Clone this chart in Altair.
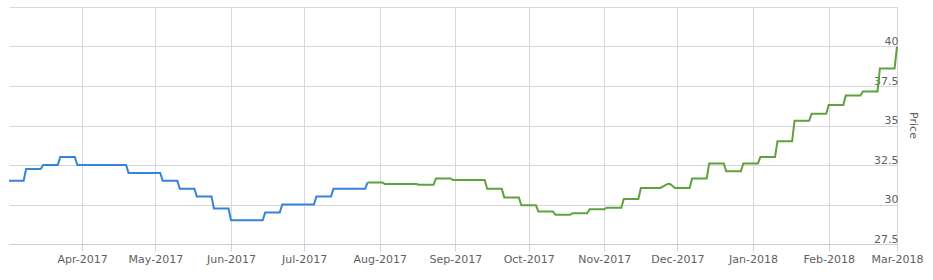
import altair as alt
import pandas as pd

# Vertex dates and prices (weekly price steps)
blue_dates = [
    "2017-03-02", "2017-03-08", "2017-03-09", "2017-03-15", "2017-03-16",
    "2017-03-22", "2017-03-23", "2017-03-29", "2017-03-30", "2017-04-19",
    "2017-04-20", "2017-05-03", "2017-05-04", "2017-05-10", "2017-05-11",
    "2017-05-17", "2017-05-18", "2017-05-24", "2017-05-25", "2017-05-31",
    "2017-06-01", "2017-06-14", "2017-06-15", "2017-06-21", "2017-06-22",
    "2017-07-05", "2017-07-06", "2017-07-12", "2017-07-13", "2017-07-26",
    "2017-07-27",
]
blue_values = [
    31.5, 31.5, 32.25, 32.25, 32.5,
    32.5, 33.0, 33.0, 32.5, 32.5,
    32.0, 32.0, 31.5, 31.5, 31.0,
    31.0, 30.5, 30.5, 29.75, 29.75,
    29.0, 29.0, 29.5, 29.5, 30.0,
    30.0, 30.5, 30.5, 31.0, 31.0,
    31.4,
]

green_dates = [
    "2017-07-27", "2017-08-02", "2017-08-03", "2017-08-16", "2017-08-17",
    "2017-08-23", "2017-08-24", "2017-08-30", "2017-08-31", "2017-09-13",
    "2017-09-14", "2017-09-20", "2017-09-21", "2017-09-27", "2017-09-28",
    "2017-10-04", "2017-10-05", "2017-10-11", "2017-10-12", "2017-10-18",
    "2017-10-19", "2017-10-25", "2017-10-26", "2017-11-01", "2017-11-02",
    "2017-11-08", "2017-11-09", "2017-11-15", "2017-11-16", "2017-11-24",
    "2017-11-27", "2017-11-28", "2017-11-30", "2017-12-06", "2017-12-07",
    "2017-12-13", "2017-12-14", "2017-12-20", "2017-12-21", "2017-12-27",
    "2017-12-28", "2018-01-03", "2018-01-04", "2018-01-10", "2018-01-11",
    "2018-01-17", "2018-01-18", "2018-01-24", "2018-01-25", "2018-01-31",
    "2018-02-01", "2018-02-07", "2018-02-08", "2018-02-14", "2018-02-15",
    "2018-02-21", "2018-02-22", "2018-02-28", "2018-03-01",
]
green_values = [
    31.4, 31.4, 31.3, 31.3, 31.25,
    31.25, 31.65, 31.65, 31.55, 31.55,
    31.0, 31.0, 30.45, 30.45, 29.95,
    29.95, 29.55, 29.55, 29.35, 29.35,
    29.45, 29.45, 29.7, 29.7, 29.8,
    29.8, 30.35, 30.35, 31.05, 31.05,
    31.3, 31.3, 31.05, 31.05, 31.65,
    31.65, 32.6, 32.6, 32.1, 32.1,
    32.6, 32.6, 33.0, 33.0, 34.0,
    34.0, 35.3, 35.3, 35.75, 35.75,
    36.3, 36.3, 36.9, 36.9, 37.15,
    37.15, 38.6, 38.6, 40.0,
]

series_names = ["first", "second"]
series_colors = ["#3584d8", "#5da23c"]

month_ticks = [
    (2017, 4), (2017, 5), (2017, 6), (2017, 7), (2017, 8), (2017, 9),
    (2017, 10), (2017, 11), (2017, 12), (2018, 1), (2018, 2), (2018, 3),
]
price_ticks = [27.5, 30, 32.5, 35, 37.5, 40, 42.5]

df = pd.concat([
    pd.DataFrame({"date": blue_dates, "price": blue_values, "series": series_names[0]}),
    pd.DataFrame({"date": green_dates, "price": green_values, "series": series_names[1]}),
], ignore_index=True)

FONT = "DejaVu Sans"
LABEL = "#606060"

x_axis = alt.Axis(
    values=[alt.DateTime(year=y, month=m, date=1, utc=True) for y, m in month_ticks],
    format="%b-%Y",
    title=None,
    grid=True,
    gridColor="#d8d8d8",
    domainColor="#c0d0e0",
    tickColor="#c8d4e0",
    tickSize=7,
    labelPadding=2,
    labelFont=FONT,
    labelFontSize=11,
    labelColor=LABEL,
    labelFlush=False,
    labelOverlap=False,
)

y_axis = alt.Axis(
    orient="right",
    values=price_ticks,
    title="Price",
    grid=True,
    gridColor="#d8d8d8",
    domain=False,
    ticks=False,
    tickSize=0,
    labelAlign="right",
    labelBaseline="bottom",
    labelPadding=1,
    labelExpr="datum.value == 42.5 ? '' : format(datum.value, '~g')",
    labelFont=FONT,
    labelFontSize=11,
    labelColor=LABEL,
    labelOverlap=False,
    titleFont=FONT,
    titleFontSize=11,
    titleFontWeight="normal",
    titleColor=LABEL,
    titleAngle=90,
    titleAlign="center",
    titleBaseline="middle",
    titleX=15,
    titleY=118,
)

chart = (
    alt.Chart(df)
    .mark_line(strokeWidth=2)
    .encode(
        x=alt.X(
            "date:T",
            scale=alt.Scale(
                type="utc",
                domain=[
                    alt.DateTime(year=2017, month=3, date=2, utc=True),
                    alt.DateTime(year=2018, month=3, date=1, utc=True),
                ],
            ),
            axis=x_axis,
        ),
        y=alt.Y(
            "price:Q",
            scale=alt.Scale(domain=[27.5, 42.5], nice=False, zero=False),
            axis=y_axis,
        ),
        color=alt.Color(
            "series:N",
            scale=alt.Scale(domain=series_names, range=series_colors),
            legend=None,
        ),
    )
    .properties(
        width=888,
        height=237,
        autosize=alt.AutoSizeParams(type="none"),
        padding={"left": 9, "top": 7, "right": 36, "bottom": 36},
        background="white",
    )
    .configure_view(stroke=None)
)

chart.save("out.html", embed_options={"renderer": "svg", "actions": False})
